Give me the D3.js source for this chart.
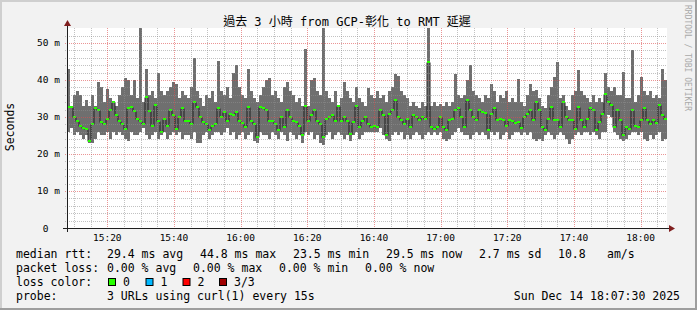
<!DOCTYPE html>
<html>
<head>
<meta charset="utf-8">
<title>GCP-彰化 to RMT latency</title>
<style>
  body { margin: 0; background: #f2f2f2; }
  text { font-family: "DejaVu Sans Mono", "Noto Sans CJK TC", monospace; fill: #000; }
  .title { font-size: 12px; text-anchor: middle; }
  .tick-label { font-size: 9.5px; white-space: pre; }
  .legend { font-size: 11.5px; white-space: pre; }
  .watermark { font-size: 8px; fill: #a9a9a9; }
</style>
</head>
<body>
<svg id="chart"></svg>
<script src="https://d3js.org/d3.v7.min.js"></script>
<script>
// per-bin ping stats in ms (3 URLs)
const maxRtt = [
  43,33,36,37,36,33,34.5,33,36,33, 39.5,38,34,37.5,35,34,33,36,38,40.5,
  40,36,40,35,54,34,43,36,37,35, 42,37,36,37,38,39.5,39,35,37,36,
  35,38,46,37,35,33,36,35,37,34,
  45,37,36,38,35,42,44,38,36,35, 43,37,35,34,36,38,40,40.5,36,37,
  35,34,38,39.5,37,36,34,35,33,48.5, 33,40,40.5,37,36,54,37,35,34,37,
  33,35,39.5,37,35,34,38,35,34,33,
  37.7,36,35,37,35,36,34,37,38,41.7, 41,37,36,35,33,34,33,32.5,34,33,
  54,33,34,33,33.5,33,34,33,34,41.7, 36,35,36,40,44,37,36,35,34,36,
  35,39,37,34,36,35,37,34,35,34,
  40.4,34,33,36,39,37,37.2,35,33,32.5, 36,38,40.8,44.9,35,36,33,32,36,37,
  42.6,37,36,35,34,36,34,35,34,41.9, 38,37,38,36,36,42.2,35,35,48,34,
  36,40.8,37,36,37,35,36,35,43,40
];
const minRtt = [
  26,27,25,26,25,24,25,23,23,24, 26,25,25,26,24,26,25,26,25,24,
  23.5,26,25,25,26,27,25,24,25,26, 24,25,26,24,25,26,25,26,24,25,
  25,24,26,23,23,25,26,24,25,26,
  26,25,26,27,25,26,24,25,26,24, 25,26,23.5,23,26,25,25,24,26,25,
  24,26,25,23.5,26,25,24,25,23,26, 25,26,24,25,23,22.5,25,26,24,25,
  26,25,24,25,23.5,25,26,24,25,26,
  26,26,26,26,27,25,24,23.5,25,26, 25,26,24,25,24,25,26,25,24,25,
  26,25,26,25,26,24,23.5,24,25,26, 27,26,25,25,24,25,26,25,26,25,
  24,26,25,26,24,25,26,24,25,26,
  26,25,26,25,26,24,23.5,24,23.5,25, 26,25,24,25,26,25,24,22.8,24,25,
  26,25,26,26,25,26,25,24,26,26, 30.5,30,26,25,24,23.5,24,25,26,26,
  25,26,24,23.5,25,24,25,26,23.5,24
];
const medianRtt = [
  32.7,32.7,30,29,27.7,27,26.8,23.5,28,32.3, 32,28.6,28,29.5,31.8,34,30.5,29,28,26.8,
  32.3,32.7,31.5,29.5,29,28,35.4,31.5,27.5,33.2, 29,26,29.5,27.5,31.8,30.5,26.8,30,32.3,29,
  29,28,34,32.7,30,28.6,28,26.5,27.5,28,
  32.3,30,31.4,29,30.8,30.5,31.4,29,28.5,27.3, 32.7,29,28,24.6,32.7,32.3,31.8,29,29,28,
  26.4,30,27.3,31.8,30,29,28.6,27.5,25,33, 29,30.5,31.8,29,28,24.6,29.5,30,30.5,29,
  33,29,30,29,25.5,28.6,33,27.3,29,30,
  28.2,27.3,27.7,27.3,31.8,30.5,25,30.9,32,34.5, 30,29.1,28.2,29.5,27.3,30.5,30,29.1,30,29.5,
  44.8,27.3,26.8,27.3,30,27.3,26.4,29.1,29.5,31.8, 32.3,30,27.3,34.5,31.8,30,29.1,31.8,31.4,31,
  26.4,30.9,32.3,29.1,29.5,29.1,27.7,29.1,29,28.5,
  28.6,27,30,30.9,31.8,29.1,34,31.8,27.3,26.4, 29.5,32.7,29.1,29.1,27.3,34,30,29.1,29.1,26.8,
  32.7,29.1,27.3,29.5,32.3,31.8,26.4,28.6,30.9,36.3, 34,33.2,27.3,31.8,29.1,25,27.3,26.8,31.8,27.7,
  27.3,29.1,32.3,29.1,28.2,29.1,28.5,33.2,30.5,29.5
];

const yTickValues = [0, 10, 20, 30, 40, 50];
const yTickLabels = ["0  ", "10 m", "20 m", "30 m", "40 m", "50 m"];

const rttStats = ["29.4 ms avg", "44.8 ms max", "23.5 ms min", "29.5 ms now", "2.7 ms sd", "10.8", "am/s"];
const lossStats = ["0.00 % avg", "0.00 % max", "0.00 % min", "0.00 % now"];
const lossLevels = ["0", "1", "2", "3/3"];
const lossColors = ["#26ff00", "#00b8ff", "#ff0000", "#a00000"];

const width = 697, height = 310;
const start = new Date(2025, 11, 14, 15, 7, 55);
const end = new Date(2025, 11, 14, 18, 7, 55);
const binMs = (end - start) / medianRtt.length;
const bins = medianRtt.map((m, i) => ({
  t0: new Date(+start + i * binMs),
  t1: new Date(+start + (i + 1) * binMs),
  med: m, lo: minRtt[i], hi: maxRtt[i]
}));

const x = d3.scaleTime().domain([start, end]).range([67, 667]);
const y = d3.scaleLinear().domain([0, 54.05]).range([228, 28]);

const svg = d3.select("#chart").attr("width", width).attr("height", height);

// background + 3d frame
svg.append("rect").attr("width", width).attr("height", height).attr("fill", "#f2f2f2");
svg.append("rect").attr("x", 0).attr("y", 0).attr("width", width).attr("height", 2).attr("fill", "#cfcfcf");
svg.append("rect").attr("x", 0).attr("y", 0).attr("width", 2).attr("height", height).attr("fill", "#cfcfcf");
svg.append("rect").attr("x", 0).attr("y", height - 2).attr("width", width).attr("height", 2).attr("fill", "#9e9e9e");
svg.append("rect").attr("x", width - 2).attr("y", 0).attr("width", 2).attr("height", height).attr("fill", "#9e9e9e");

// canvas
svg.append("rect").attr("x", 67).attr("y", 28).attr("width", 600).attr("height", 200).attr("fill", "#fff");

// smoke
svg.append("g").selectAll("rect").data(bins).enter().append("rect")
  .attr("x", d => x(d.t0))
  .attr("width", d => x(d.t1) - x(d.t0))
  .attr("y", d => y(d.hi))
  .attr("height", d => y(d.lo) - y(d.hi))
  .attr("fill", "#6f6f6f")
  .attr("shape-rendering", "crispEdges");

// median step line
const stepPts = bins.map(d => [d.t0, d.med]).concat([[end, bins[bins.length - 1].med]]);
svg.append("path")
  .attr("d", d3.line().x(d => x(d[0])).y(d => Math.round(y(d[1])) + 0.5).curve(d3.curveStepAfter)(stepPts))
  .attr("fill", "none").attr("stroke", "#202020").attr("stroke-width", 1);

// loss colour marks (all 0 loss)
svg.append("g").selectAll("rect").data(bins).enter().append("rect")
  .attr("x", d => x(d.t0))
  .attr("width", d => x(d.t1) - x(d.t0))
  .attr("y", d => Math.round(y(d.med)) - 1)
  .attr("height", 2)
  .attr("fill", lossColors[0])
  .attr("shape-rendering", "crispEdges");

// grid (drawn over data like rrdtool)
const grid = svg.append("g").attr("shape-rendering", "crispEdges");
const minorX = x.ticks(d3.timeMinute.every(5)).filter(t => t.getMinutes() % 20 !== 0);
const majorX = x.ticks(d3.timeMinute.every(20));
grid.selectAll(".gx").data(minorX).enter().append("line")
  .attr("x1", d => Math.round(x(d)) + 0.5).attr("x2", d => Math.round(x(d)) + 0.5)
  .attr("y1", 28).attr("y2", 230)
  .attr("stroke", "#8f8f8f").attr("stroke-opacity", 0.55).attr("stroke-dasharray", "1,1");
grid.selectAll(".gy").data(d3.range(2, 54, 2).filter(v => v % 10 !== 0)).enter().append("line")
  .attr("x1", 65).attr("x2", 667)
  .attr("y1", d => Math.round(y(d)) + 0.5).attr("y2", d => Math.round(y(d)) + 0.5)
  .attr("stroke", "#8f8f8f").attr("stroke-opacity", 0.55).attr("stroke-dasharray", "1,1");
grid.selectAll(".mx").data(majorX).enter().append("line")
  .attr("x1", d => Math.round(x(d)) + 0.5).attr("x2", d => Math.round(x(d)) + 0.5)
  .attr("y1", 28).attr("y2", 230)
  .attr("stroke", "#de4f4f").attr("stroke-opacity", 0.6).attr("stroke-dasharray", "1,1");
grid.selectAll(".my").data(yTickValues.slice(1)).enter().append("line")
  .attr("x1", 65).attr("x2", 667)
  .attr("y1", d => Math.round(y(d)) + 0.5).attr("y2", d => Math.round(y(d)) + 0.5)
  .attr("stroke", "#de4f4f").attr("stroke-opacity", 0.6).attr("stroke-dasharray", "1,1");

// axes
svg.append("line").attr("x1", 63).attr("x2", 670).attr("y1", 228.5).attr("y2", 228.5)
  .attr("stroke", "#1f1f1f").attr("shape-rendering", "crispEdges");
svg.append("line").attr("x1", 67.5).attr("x2", 67.5).attr("y1", 232).attr("y2", 24)
  .attr("stroke", "#1f1f1f").attr("shape-rendering", "crispEdges");
svg.append("path").attr("d", "M669,225 L675,228.5 L669,232 Z").attr("fill", "#801f1f");
svg.append("path").attr("d", "M64,26 L67.5,20 L71,26 Z").attr("fill", "#801f1f");

// tick labels
svg.append("g").selectAll("text").data(majorX).enter().append("text")
  .attr("class", "tick-label")
  .attr("x", d => x(d)).attr("y", 241)
  .attr("text-anchor", "middle")
  .text(d3.timeFormat("%H:%M"));
svg.append("g").selectAll("text").data(yTickValues).enter().append("text")
  .attr("class", "tick-label")
  .attr("x", 60).attr("y", d => y(d) + 3.5)
  .attr("text-anchor", "end")
  .text((d, i) => yTickLabels[i]);

// titles
svg.append("text").attr("class", "title").attr("x", 347).attr("y", 26)
  .text("過去 3 小時 from GCP-彰化 to RMT 延遲");
svg.append("text").attr("class", "legend")
  .attr("transform", "translate(14,127) rotate(-90)").attr("text-anchor", "middle")
  .text("Seconds");
svg.append("text").attr("class", "watermark")
  .attr("transform", "translate(684.5,5) rotate(90)")
  .text("RRDTOOL / TOBI OETIKER");

// legend
const leg = svg.append("g");
function legText(xp, yp, s, anchor) {
  leg.append("text").attr("class", "legend").attr("x", xp).attr("y", yp)
    .attr("text-anchor", anchor || "start").text(s);
}
legText(16, 258, "median rtt:");
[107, 200, 293, 386, 479, 558, 607].forEach((xp, i) => legText(xp, 258, rttStats[i]));
legText(16, 272, "packet loss:");
[107, 193, 279, 365].forEach((xp, i) => legText(xp, 272, lossStats[i]));
legText(16, 286, "loss color:");
[108, 145.5, 182.5, 219].forEach((xp, i) => {
  leg.append("rect").attr("x", xp + 0.5).attr("y", 278.5).attr("width", 7).attr("height", 7)
    .attr("fill", lossColors[i]).attr("stroke", "#000").attr("stroke-width", 1);
  legText(xp + 15, 286, lossLevels[i]);
});
legText(16, 299.5, "probe:");
legText(107, 299.5, "3 URLs using curl(1) every 15s");
legText(680, 299.5, "Sun Dec 14 18:07:30 2025", "end");
</script>
</body>
</html>
